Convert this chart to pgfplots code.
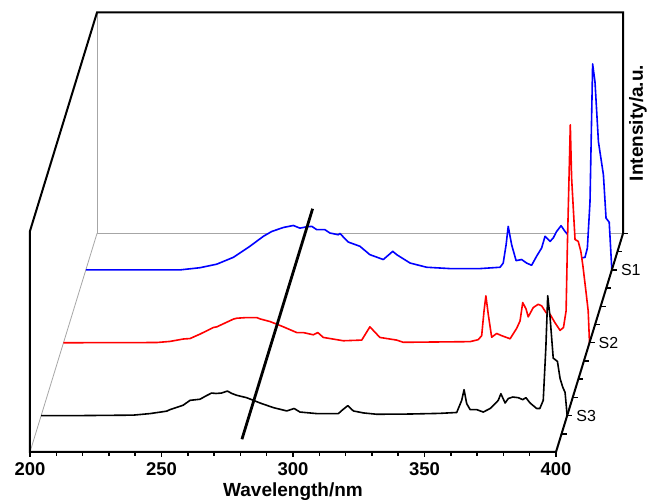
\documentclass[border=0pt]{standalone}
\usepackage{pgfplots}
\pgfplotsset{compat=1.18}
\usepackage{pgfplotstable}
\usepackage{fontspec}
\setmainfont{Liberation Sans}

% S3 (front)
\pgfplotstableread{
wl I
200 0
215 0.000
235 0.002
241.4 0.009
247.7 0.020
249.0 0.027
254.0 0.047
256.6 0.069
260.4 0.074
262.5 0.088
264.8 0.102
266.5 0.100
268.6 0.102
270.8 0.111
272.5 0.100
274.3 0.092
278.1 0.081
280.5 0.070
283.2 0.057
288.3 0.036
293.4 0.021
296.2 0.032
298.4 0.016
304.8 0.009
313.0 0.009
314.7 0.027
316.6 0.045
318.7 0.021
322.5 0.012
327.6 0.006
340 0.007
351.6 0.010
358.0 0.014
359.9 0.069
360.8 0.117
361.8 0.054
363.1 0.027
365.6 0.027
368.1 0.016
370.7 0.032
372.6 0.054
373.8 0.069
374.8 0.099
376.4 0.057
377.6 0.077
379.3 0.084
381.4 0.081
383.1 0.072
384.3 0.081
385.9 0.057
388.4 0.032
389.6 0.032
390.9 0.069
391.9 0.309
392.6 0.542
393.5 0.444
394.7 0.260
396.3 0.245
397.3 0.168
398.3 0.129
399.2 0.105
400 0.0
}\sthree

% S2 (middle)
\pgfplotstableread{
wl I
200 0
235.4 0.001
240.5 0.006
245.6 0.017
248.1 0.019
251.9 0.039
257.0 0.069
258.3 0.072
264.6 0.107
265.9 0.111
269.7 0.114
273.5 0.114
274.7 0.108
278.5 0.096
281.1 0.084
283.6 0.072
288.7 0.046
291.2 0.046
295.0 0.036
296.7 0.046
298.8 0.024
306.4 0.009
313.4 0.012
316.5 0.072
320.3 0.024
326.7 0.012
329.2 0.002
354.6 0.005
357.7 0.014
359.0 0.032
359.9 0.144
360.6 0.212
361.5 0.129
362.8 0.025
364.7 0.042
366.6 0.032
369.8 0.018
372.3 0.065
373.6 0.099
374.6 0.182
375.9 0.152
376.7 0.117
378.6 0.159
380.5 0.174
381.8 0.167
383.5 0.136
385.0 0.129
386.9 0.090
388.8 0.056
390.1 0.069
391.1 0.144
391.6 0.445
392.7 0.986
393.2 0.745
394.5 0.467
395.7 0.459
396.7 0.414
397.5 0.347
398.7 0.227
399.5 0.144
400 0.0
}\stwo

% S1 (back)
\pgfplotstableread{
wl I
200 0
235.8 0.000
243.4 0.010
249.8 0.026
256.1 0.057
262.4 0.107
267.5 0.152
270.7 0.174
275.1 0.192
278.9 0.201
281.4 0.189
284.0 0.195
285.9 0.197
287.8 0.182
290.9 0.182
292.8 0.167
296.0 0.159
296.6 0.165
299.8 0.126
304.2 0.107
308.0 0.069
313.1 0.047
316.7 0.084
318.2 0.069
323.3 0.031
329.6 0.012
338.5 0.006
349.9 0.006
357.5 0.012
358.7 0.031
359.8 0.114
360.6 0.197
361.9 0.114
363.6 0.042
365.7 0.047
367.6 0.031
369.5 0.021
371.4 0.062
373.3 0.099
374.6 0.152
376.5 0.129
377.7 0.144
379.0 0.174
380.7 0.200
382.2 0.174
383.5 0.156
385.5 0.120
388.5 0.054
389.8 0.057
390.7 0.099
391.7 0.309
392.7 0.932
393.6 0.850
394.9 0.580
396.8 0.430
397.8 0.234
399.0 0.216
400 0.0
}\sone

\begin{document}
\begin{tikzpicture}
\begin{pgfinterruptboundingbox}
\begin{axis}[
    x={(2.63pt,0pt)}, y={(11.1667pt,36.4167pt)}, z={(0pt,221pt)},
    xmin=200, xmax=400, ymin=0, ymax=6, zmin=0, zmax=1,
    hide axis, clip=false,
]
\coordinate (A) at (axis cs:200,0,0);

% back walls, thin grey
\draw[black!35, line width=0.8pt] (axis cs:200,0,0) -- (axis cs:200,6,0) -- (axis cs:400,6,0);
\draw[black!35, line width=0.8pt] (axis cs:200,6,0) -- (axis cs:200,6,1);

% spectra, back to front, white fill hides what is behind
\addplot3[blue, line width=1.6pt, fill=white, line join=round] table[x=wl, y expr=5, z=I] {\sone};
\addplot3[red, line width=1.6pt, fill=white, line join=round] table[x=wl, y expr=3, z=I] {\stwo};
\addplot3[black, line width=1.6pt, fill=white, line join=round] table[x=wl, y expr=1, z=I] {\sthree};

% frame
\draw[black, line width=2pt, line join=miter] (axis cs:400,0,0) -- (axis cs:200,0,0) -- (axis cs:200,0,1)
    -- (axis cs:200,6,1) -- (axis cs:400,6,1) -- (axis cs:400,6,0) -- cycle;

% x ticks
\pgfplotsinvokeforeach{210,220,230,240,260,270,280,290,310,320,330,340,360,370,380,390}{
  \draw[line width=1.5pt] (axis cs:#1,0,0) -- ++(0pt,-4pt);
}
\pgfplotsinvokeforeach{200,250,300,350,400}{
  \draw[line width=1.5pt] (axis cs:#1,0,0) -- ++(0pt,-5.5pt);
  \node[anchor=north, inner sep=0pt, yshift=-10.5pt, font=\bfseries\fontsize{18.5}{22}\selectfont] at (axis cs:#1,0,0) {#1};
}
% depth ticks
\pgfplotsinvokeforeach{0.5,1,1.5,2,2.5,3,3.5,4,4.5,5,5.5,6}{
  \draw[line width=1.5pt] (axis cs:400,#1,0) -- ++(5pt,0pt);
}
\node[anchor=west, inner sep=0pt, xshift=9pt, font=\fontsize{16}{19}\selectfont] at (axis cs:400,1,0) {S3};
\node[anchor=west, inner sep=0pt, xshift=9pt, font=\fontsize{16}{19}\selectfont] at (axis cs:400,3,0) {S2};
\node[anchor=west, inner sep=0pt, xshift=9pt, font=\fontsize{16}{19}\selectfont] at (axis cs:400,5,0) {S1};

% axis titles
\node[anchor=north, inner sep=0pt, yshift=-31pt, font=\bfseries\fontsize{19}{23}\selectfont] at (axis cs:300,0,0) {Wavelength/nm};
\node[xshift=6pt, rotate=90, anchor=north, inner sep=0pt, font=\bfseries\fontsize{19}{23}\selectfont] at (axis cs:400,6,0.5) {Intensity/a.u.};

% guide line across the broad band
\addplot3[black, line width=2.8pt] coordinates {(279.1,0.35,0) (279.1,6.68,0)};
\end{axis}
\end{pgfinterruptboundingbox}
\path[use as bounding box] ([xshift=-30pt,yshift=-48pt]A) rectangle ++(648pt,500pt);
\end{tikzpicture}
\end{document}
